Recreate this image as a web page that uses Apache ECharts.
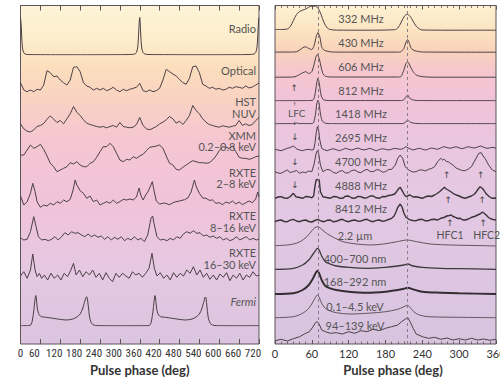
<!DOCTYPE html>
<html>
<head>
<meta charset="utf-8">
<script src="https://cdn.jsdelivr.net/npm/echarts@6/dist/echarts.min.js"></script>
<style>
  html, body { margin: 0; padding: 0; background: #ffffff; }
  #chart { width: 500px; height: 377px; }
</style>
</head>
<body>
<div id="chart"></div>
<script>
// ---------------- tick labels ----------------
const leftPhaseTicks  = [0, 60, 120, 180, 240, 300, 360, 420, 480, 540, 600, 660, 720];
const rightPhaseTicks = [0, 60, 120, 180, 240, 300, 360];
const pulseMarkers = [70, 216];   // main pulse and interpulse phases (dashed guides)

// ---------------- Vela pulsar profiles (two rotations, 0–720 deg) ----------------
const phase10 = [0,10,20,30,40,50,60,70,80,90,100,110,120,130,140,150,160,170,180,190,200,210,220,230,240,250,260,270,280,290,300,310,320,330,340,350,360,370,380,390,400,410,420,430,440,450,460,470,480,490,500,510,520,530,540,550,560,570,580,590,600,610,620,630,640,650,660,670,680,690,700,710,720];

const velaRadio = [[0,37.5],[2,30],[4,16],[6,7],[9,3],[13,1.2],[20,0.5],[60,0.3],[120,0.2],[200,0.2],[280,0.3],[330,0.5],[345,1],[350,2.5],[354,8],[357,24],[359,36],[360,37.7],[361,34],[363,20],[366,7],[370,2.5],[375,1],[385,0.5],[450,0.3],[550,0.2],[650,0.3],[690,0.5],[705,1],[710,2.5],[714,8],[717,24],[719,36],[720,37.5]];

const velaOptical = [12.3,5,3.3,5,3.3,5.7,5,10,24.3,22.3,18.3,19,15,12.3,10,15,27.7,28.3,23.3,12.3,9,7.7,5,6.7,5,6.7,4.3,5.7,7.7,5,3.3,5.7,4.3,5.7,6.7,7.7,11.7,4.3,3.3,5,3.3,4.3,6.7,15,25.7,23.3,21,19,15.7,12.3,10.7,16.7,28.3,29,22.3,10.7,9,6.7,7.7,5.7,6.7,5,5.7,7.7,6.7,8.3,7.7,6.7,9,7,8,10,12];

const velaNUV = [8.7,3.7,1.3,0.5,2.7,6,7,9,13.3,16.7,13.3,10,12,8.7,13.7,18.7,26,20.3,17,12.7,9.3,8,7,6,5.3,6,4.7,6,7,5.3,10,6,5.3,4.7,5.3,8,15,7,3.7,2.7,4.3,6,8.7,10.3,12.7,16,13.7,9.3,11.3,8,12,17,27,22,18.7,13.7,10.3,8,7,6,5.3,6.7,6,5.3,6.3,7,12,7,8.7,7,8,12,15];

const velaXMM = [18,18,23,28,24.7,26.3,28.7,23.7,17,9.7,6.3,1.3,3,4.7,6.3,10.3,9,11.3,8,6.3,6.3,9.7,11.3,15.7,21.3,26.3,26.3,29.7,26.3,19.7,13,11.3,13.7,13,16.3,14.7,17,18.7,22.3,25.7,26.3,27,28,24.7,17,9.7,8,3.7,3,5.7,8,10.3,12.3,11.3,10.3,10.3,9.7,10.3,13,17,22.3,26.3,25.7,24.7,27,21.3,15.7,14.7,14.7,13.7,14.7,16.3,17];

const velaRXTE2to8 = [[0,13],[10,4],[20,7.3],[30,15.7],[37,25.7],[44,17.3],[50,7.3],[60,1.7],[70,4],[80,3],[90,5.7],[100,4],[110,7.3],[120,5.7],[130,9],[140,7.3],[150,9.7],[158,18],[165,29],[170,24],[180,18.3],[190,15.7],[200,10.7],[210,13],[220,7.3],[230,9],[240,4],[250,5.7],[260,7.3],[270,5.7],[280,9],[290,5.7],[300,7.3],[310,9.7],[320,9],[330,10],[340,9],[350,12],[358,21],[364,13],[370,9],[378,14],[386,18],[398,27.3],[404,17],[410,8],[420,5],[435,6],[450,4.3],[465,7],[480,8],[495,9.3],[505,11],[515,17],[525,29],[531,22],[540,15.7],[550,11],[560,10.7],[570,8.7],[580,9],[590,5.7],[600,6.3],[610,4.3],[620,7],[630,5.7],[640,8],[650,5],[660,7],[670,4.3],[680,6.3],[690,8],[700,6.3],[710,10],[716,17],[720,12]];

const velaRXTE8to16 = [[0,5],[2,5.7],[10,4],[20,4.7],[30,12.3],[40,27.3],[47,17.3],[54,7.3],[64,4],[74,4.7],[84,3.3],[94,4.7],[104,7.3],[114,4],[124,7.3],[134,11.3],[144,9],[154,12.3],[164,10.7],[174,11.3],[184,9],[194,7.3],[204,10],[214,7.3],[224,9],[234,6.7],[244,8],[254,4.7],[264,7.3],[274,4],[284,6.7],[294,4.7],[304,7.3],[314,3.3],[324,5.7],[334,4],[344,7.3],[354,4],[364,5.7],[374,2.3],[384,9],[394,25.7],[399,28],[404,19],[412,7.3],[422,4],[432,4.7],[442,3.3],[452,5.7],[462,4],[472,7.3],[482,5.7],[492,10],[502,12.3],[512,10.7],[522,13.3],[532,10.7],[542,11.3],[552,8],[562,9],[572,6.7],[582,8],[592,5.7],[602,7.3],[612,4],[622,5.7],[632,3.3],[642,4.7],[652,7.3],[662,4],[672,5.7],[682,7.3],[692,4],[702,5.7],[712,4],[720,5]];

const velaRXTE16to30 = [[0,9],[2,10],[10,13.3],[20,6.7],[30,15],[37,31],[44,15],[50,8.3],[57,11.7],[64,6.7],[72,10],[82,5],[92,11.7],[102,6.7],[112,10],[122,5],[132,11.7],[142,8.3],[152,15],[160,21.7],[168,10],[178,15],[188,8.3],[198,13.3],[208,10],[218,15],[228,7.7],[238,11.7],[248,5],[258,12.3],[268,6.7],[278,3.3],[288,11.7],[298,7.7],[308,11.7],[318,9],[328,6.7],[338,13.3],[348,10],[358,11.7],[368,7.7],[378,11.7],[388,16.7],[397,31.7],[404,16.7],[412,9],[422,12.3],[432,6.7],[442,10],[452,5],[462,12.3],[472,7.7],[482,11.7],[492,9],[502,15],[512,11.7],[522,18.3],[532,10],[542,15],[552,7.7],[562,11.7],[572,5.7],[582,10],[592,5],[602,11],[612,7.7],[622,12.3],[632,4.3],[642,10],[652,6.7],[662,11.7],[672,5],[682,10],[692,7.7],[702,13.3],[712,9],[720,10]];

const velaFermi = [[0,0.3],[25,0.5],[32,1.5],[36,6],[40,15],[43,24],[46,30.5],[48,27],[50,20],[53,14],[57,11],[63,9.3],[78,8.7],[98,7.7],[118,6.7],[138,6],[158,7],[170,9],[180,12],[187,17],[193,23.5],[198,28.5],[200,29.3],[202,27],[205,19],[208,10],[212,4.5],[218,1.5],[226,0.6],[240,0.3],[300,0.2],[385,0.3],[392,1.5],[396,6],[400,15],[403,24],[406,30.5],[408,27],[410,20],[413,14],[417,11],[423,9.3],[438,8.7],[458,7.7],[478,6.7],[498,6],[518,7],[530,9],[540,12],[547,17],[553,23.5],[558,29],[560,28],[563,19],[566,10],[570,4.5],[576,1.5],[584,0.6],[600,0.3],[660,0.2],[720,0.3]];

// ---------------- Crab pulsar profiles (0–360 deg) ----------------
const crab332 = [[0,1],[10,1],[20,1.5],[25,4],[30,10],[35,16],[40,19],[45,20.3],[50,21.5],[55,23.3],[60,24.3],[65,24.3],[70,22.5],[75,16],[80,7.7],[85,2.7],[90,1],[100,0.4],[150,0.3],[195,0.8],[200,2.5],[205,7.5],[210,13.5],[215,16.3],[220,14.3],[225,9.3],[230,4.3],[235,1.7],[240,0.5],[300,0.3],[360,0.3]];
const crab430 = [[0,0.4],[30,0.5],[35,0.8],[40,2.3],[45,4.7],[50,5.7],[55,4],[60,3],[64,7.3],[67,15.7],[70,20],[73,15.7],[76,5.7],[80,2.3],[90,0.7],[100,0.4],[200,0.4],[205,0.7],[210,4],[213,9.7],[216,13],[219,9],[222,4],[228,1.7],[240,0.5],[360,0.3]];
const crab606 = [[0,0.3],[30,0.5],[35,1.3],[45,4.7],[50,5.8],[55,4],[60,5.8],[64,14],[67,21.3],[69,23],[72,19],[75,10.7],[78,4],[82,1.3],[90,0.5],[200,0.5],[205,0.8],[210,7.5],[213,13.5],[216,15.8],[220,11.5],[225,5.8],[230,2.5],[240,0.8],[260,0.3],[360,0.3]];
const crab812 = [[0,0.3],[55,0.4],[62,0.8],[65,6],[68,18],[70,22.7],[72,18],[75,6],[79,1.2],[90,0.4],[205,0.4],[210,1.2],[213,4],[216,6],[219,3],[225,1],[235,0.4],[360,0.3]];
const crab1418 = [[0,0.3],[30,0.4],[35,1],[40,0.4],[60,0.4],[63,1.5],[66,10],[68,20],[70,24],[72,20],[74,10],[77,3],[82,0.8],[95,0.3],[208,0.4],[212,1.5],[216,4],[220,2],[226,0.8],[240,0.3],[360,0.3]];
const crab2695 = [[0,2.2],[5,1.5],[10,0.8],[15,2],[20,3.2],[25,4],[30,5.5],[33,4],[36,2.2],[40,1.5],[45,0.8],[50,1.8],[55,2.2],[60,1.5],[63,2],[65,8],[67,18],[69,24.8],[71,21.5],[73,11.5],[76,3.2],[80,1.8],[85,0.8],[90,2],[95,2.8],[100,1.8],[105,0.8],[110,2],[115,3.2],[120,2.2],[125,1.5],[130,2.5],[135,3.5],[140,2.3],[145,1.5],[150,2.3],[155,3.2],[160,1.8],[165,0.8],[170,2],[175,2.8],[180,2.2],[185,1.5],[190,2.3],[195,3.2],[200,2.6],[205,2.2],[209,3],[213,4.8],[218,3.2],[222,2.2],[225,1.5],[230,2.4],[235,3.2],[240,2.3],[245,1.5],[250,2.5],[255,3.5],[260,2.8],[265,2.2],[270,3.5],[275,4.8],[280,4],[285,3.2],[290,4],[295,4.8],[300,3.6],[305,2.8],[310,3.8],[315,4.8],[320,4],[325,3.5],[330,4.5],[335,5.5],[340,4.2],[345,3.2],[350,3.6],[355,4.2],[360,3.2]];
const crab4700 = [[0,3.3],[5,2],[10,1.7],[15,3.5],[20,5],[25,2.5],[30,3.3],[35,4.5],[40,1.7],[45,3],[50,2.3],[55,4],[60,3.3],[64,11.7],[67,21.7],[69,24.3],[71,21.7],[74,10],[78,3.3],[84,5.5],[90,5],[95,2.5],[100,1.7],[105,3.8],[110,4.3],[115,2],[120,2.3],[125,4.5],[130,5],[135,3],[140,2.3],[145,4.5],[150,5.7],[155,3.5],[160,3.3],[165,5.2],[170,5],[175,2.8],[180,3.3],[185,5.5],[190,5.7],[196,10],[200,16.7],[204,20],[208,16.7],[212,8.3],[218,5],[224,3],[230,3.3],[235,5],[240,5],[245,4],[250,5.7],[255,6.5],[260,8.3],[265,13.3],[270,16.7],[273,15],[276,15.7],[279,13.5],[282,13.3],[286,11.5],[290,10],[295,7],[300,5.7],[305,4.5],[310,4.3],[315,6],[320,8.3],[326,15],[332,21.7],[336,22.3],[339,19],[342,16.7],[348,10],[354,5],[360,3.3]];
const crab4888 = [[0,0.7],[5,2],[10,2.3],[15,1],[20,0.7],[25,2.5],[30,5.7],[34,2.3],[40,1.5],[45,0.7],[50,2.5],[55,2.3],[60,1.2],[63,3],[65,12.3],[67,19],[70,19.5],[72,19],[74,7.3],[78,2.3],[84,1.5],[90,0.7],[95,2.5],[100,2.3],[105,0.8],[110,0.7],[115,2.8],[120,3],[125,1],[130,0.7],[135,2.6],[140,2.3],[145,1],[150,1.3],[155,3],[160,3],[165,1.2],[170,0.7],[175,2.5],[180,2.3],[185,3.5],[190,4],[195,5],[198,7.3],[201,10],[204,11.7],[208,7.3],[211,4],[214,2.3],[217,3.5],[220,4],[225,2],[230,2.3],[235,1.5],[240,0.7],[245,2.2],[250,3],[255,2.5],[260,4],[264,5.5],[268,7.3],[272,9.5],[276,11.7],[279,10],[282,9],[286,7.5],[290,5.7],[295,4],[300,3],[305,1.5],[310,0.7],[315,2],[320,3],[325,5],[328,7.3],[331,10],[334,12.3],[337,11],[340,9],[343,6],[346,4],[350,2],[354,0.7],[358,1],[360,0.5]];
const crab8412 = [[0,1.3],[5,2.5],[10,3],[15,1.5],[20,1.3],[25,2.8],[30,3.7],[35,2],[40,1.3],[45,2.5],[50,3],[55,1.5],[60,1],[65,2.5],[70,3.7],[75,2],[80,1.3],[85,2.7],[90,3],[95,1.2],[100,1.7],[105,3],[110,3.7],[115,2],[120,1.3],[125,2.5],[130,3],[135,1.8],[140,2],[145,3.2],[150,3.7],[155,2],[160,1.3],[165,2.6],[170,3],[175,1.6],[180,2.3],[185,3.5],[190,4.7],[194,7],[197,11],[200,15.7],[204,19],[207,16],[210,10],[213,6],[218,3.7],[224,2.5],[230,2.3],[235,3.5],[240,3.7],[245,2.2],[250,2.3],[255,3.5],[260,3.7],[265,3],[270,4.7],[275,5.5],[280,7],[284,7.5],[287,8],[290,6.5],[294,5.7],[298,4.5],[302,4.7],[306,3],[310,3],[315,4],[320,5.7],[325,6.5],[330,8],[334,9],[338,11],[341,9.5],[344,8],[347,6],[350,4.7],[355,3.5],[360,3]];
const crab2um = [[0,0.8],[20,1.5],[30,2.5],[41,4.8],[52,9.8],[60,15.8],[65,18.8],[70,19.8],[76,17.2],[84,13.2],[95,9.2],[111,4.8],[133,2.5],[155,1.5],[177,2.5],[199,4.8],[215,6.5],[231,4.8],[253,2.5],[286,1.5],[340,0.8],[360,0.5]];
const crabVisible = [[0,1.2],[30,2.2],[45,5.5],[55,10.5],[62,16.5],[66,19.8],[69,22.2],[72,20.5],[76,14.5],[82,8.8],[90,6.5],[100,4.5],[120,3.2],[150,2.2],[180,3.2],[200,4.5],[210,5.5],[216,6.5],[225,4.5],[240,3.2],[270,2.2],[300,1.8],[360,1.2]];
const crabUV = [[0,1.5],[30,2.2],[45,5.5],[55,10.5],[62,17.2],[66,22.2],[69,24.8],[72,22.2],[76,15.5],[82,9.5],[90,7.2],[100,5.5],[120,3.8],[150,2.8],[180,3.8],[200,5.5],[210,6.8],[216,7.8],[225,6.2],[240,3.8],[270,2.8],[300,2.2],[360,1.5]];
const crabSoftX = [[0,1.3],[30,2.3],[45,5.7],[55,10.7],[62,17.3],[66,21.7],[69,24],[72,21.7],[76,15.7],[82,10.7],[90,8],[100,6.3],[120,5],[150,5.7],[180,7.3],[200,9.7],[210,12.3],[216,13.7],[220,11.7],[226,7.3],[235,4],[250,2.3],[300,1.7],[360,1.3]];
const crabHardX = [[0,1.3],[10,2.7],[20,1],[30,3.3],[40,5.3],[50,8.7],[56,10.3],[62,15.3],[66,19.3],[69,20.3],[72,18],[76,12],[82,10.3],[90,8.7],[100,9.3],[110,8],[120,10.3],[130,8.7],[140,11.3],[150,10.3],[160,12.7],[170,11.3],[180,13.7],[190,15.3],[200,17],[206,20.3],[212,22.7],[216,24.7],[220,20.3],[225,13.7],[230,8],[240,5.3],[250,3.7],[260,4.7],[270,2.7],[280,4],[290,2],[300,3.3],[310,2],[320,3.7],[330,2],[340,3],[350,1.7],[360,2.7]];

// ---------------- band names ----------------
const leftBandNames  = ['Radio', 'Optical', 'HST', 'NUV', 'XMM', '0.2–0.8 keV', 'RXTE', '2–8 keV', 'RXTE', '8–16 keV', 'RXTE', '16–30 keV', 'Fermi'];
const rightBandNames = ['332 MHz', '430 MHz', '606 MHz', '812 MHz', '1418 MHz', '2695 MHz', '4700 MHz', '4888 MHz', '8412 MHz', '2.2 µm', '400–700 nm', '168–292 nm', '0.1–4.5 keV', '94–139 keV'];

// ---------------- layout ----------------
const FONT = 'Lato, "Noto Sans", "DejaVu Sans", sans-serif';
const NARROW = '"Liberation Sans Narrow", "Roboto Condensed", Lato, sans-serif';
const INK = '#4b4046';
const FRAME = '#5d5359';
const leftBox  = { left: 20.5, top: 5.5, width: 238.5, height: 338.5 };
const rightBox = { left: 275, top: 5.5, width: 221, height: 338.5 };

const leftStops = [
  { offset: 0.00, color: '#fdf4d8' },
  { offset: 0.10, color: '#fdedcc' },
  { offset: 0.18, color: '#fcdebd' },
  { offset: 0.28, color: '#f9d2c2' },
  { offset: 0.40, color: '#f5c6d2' },
  { offset: 0.58, color: '#f0c3da' },
  { offset: 0.78, color: '#e6c8e2' },
  { offset: 1.00, color: '#dbc4df' }
];
const rightStops = [
  { offset: 0.00, color: '#fdf2d2' },
  { offset: 0.07, color: '#fce4c2' },
  { offset: 0.13, color: '#f9d4ba' },
  { offset: 0.19, color: '#f6c7cd' },
  { offset: 0.27, color: '#f1c3d8' },
  { offset: 0.40, color: '#eac6df' },
  { offset: 0.60, color: '#e3c8e3' },
  { offset: 1.00, color: '#d8c4df' }
];

const grid = [], xAxis = [], yAxis = [], series = [];

function addFrame(box, ticks, stops, opts) {
  const gi = grid.length;
  grid.push({
    left: box.left, top: box.top, width: box.width, height: box.height,
    show: true, backgroundColor: new echarts.graphic.LinearGradient(0, 0, 0, 1, stops),
    borderColor: FRAME, borderWidth: 1, containLabel: false, outerBoundsMode: 'none', z: 0
  });
  const base = {
    gridIndex: gi, type: 'value',
    min: ticks[0], max: ticks[ticks.length - 1], interval: ticks[1] - ticks[0],
    axisLine: { show: false }, splitLine: { show: false },
    axisTick: { show: true, inside: true, length: opts.tickLen, lineStyle: { color: FRAME, width: 1 } },
    minorTick: opts.minor ? { show: true, splitNumber: opts.minor, length: 2.5, lineStyle: { color: FRAME, width: 0.8 } } : { show: false }
  };
  const xi = xAxis.length;
  xAxis.push(Object.assign({}, base, {
    position: 'bottom',
    axisLabel: Object.assign({
      show: true, color: '#333', fontSize: 11, fontFamily: FONT, margin: 4,
      showMinLabel: true, showMaxLabel: true
    }, opts.label || {}),
    name: 'Pulse phase (deg)', nameLocation: 'middle', nameGap: 17,
    nameTextStyle: { color: '#333', fontSize: 13, fontWeight: 'bold', fontFamily: FONT, padding: opts.namePad || 0 }
  }));
  xAxis.push(Object.assign({}, base, { position: 'top', axisLabel: { show: false } }));
  const yi = yAxis.length;
  yAxis.push({ gridIndex: gi, type: 'value', min: 0, max: 1, show: false });
  return { xi, yi };
}

function addRow(box, ticks, base, span, data, style) {
  const gi = grid.length;
  grid.push({ left: box.left, width: box.width, top: base - span, height: span, containLabel: false, outerBoundsMode: 'none' });
  const xi = xAxis.length;
  xAxis.push({ gridIndex: gi, type: 'value', min: ticks[0], max: ticks[ticks.length - 1], show: false });
  const yi = yAxis.length;
  yAxis.push({ gridIndex: gi, type: 'value', min: 0, max: span, show: false });
  series.push({
    type: 'line', xAxisIndex: xi, yAxisIndex: yi, data: data,
    showSymbol: false, symbol: 'none', smooth: style.smooth || false, silent: true, z: 3,
    lineStyle: { color: style.color || INK, width: style.width || 1 }
  });
}

function zip(xs, ys) { return xs.map((x, i) => [x, ys[i]]); }

// left panel: Vela
addFrame(leftBox, leftPhaseTicks, leftStops, {
  tickLen: 5,
  label: {
    fontFamily: NARROW, fontSize: 11,
    formatter: v => (v === 0 ? '0' : '{s|' + v + '}'),
    rich: { s: { padding: [0, 12, 0, 0], fontSize: 11, fontFamily: NARROW, color: '#333' } }
  }
});
const leftRows = [
  { data: velaRadio, base: 55, style: { smooth: 0.3 } },
  { data: zip(phase10, velaOptical), base: 95, style: {} },
  { data: zip(phase10, velaNUV), base: 132.5, style: {} },
  { data: zip(phase10, velaXMM), base: 173, style: {} },
  { data: velaRXTE2to8, base: 209, style: {} },
  { data: velaRXTE8to16, base: 244, style: {} },
  { data: velaRXTE16to30, base: 285, style: {} },
  { data: velaFermi, base: 326, style: { smooth: 0.3 } }
];
leftRows.forEach(r => addRow(leftBox, leftPhaseTicks, r.base, 40, r.data, r.style));

// right panel: Crab
const rightFrame = addFrame(rightBox, rightPhaseTicks, rightStops, { tickLen: 4, minor: 6, namePad: [0, 0, 0, 15] });
series.push({
  type: 'line', xAxisIndex: rightFrame.xi, yAxisIndex: rightFrame.yi,
  data: [[0, 0]], showSymbol: false, symbol: 'none', lineStyle: { width: 0, opacity: 0 }, silent: true, z: 2,
  markLine: {
    silent: true, symbol: ['none', 'none'], label: { show: false },
    lineStyle: { type: [3, 3], color: '#8a7b88', width: 1 },
    data: pulseMarkers.map(p => ({ xAxis: p }))
  }
});
const rightRows = [
  { data: crab332, base: 30.5, style: { smooth: 0.3 } },
  { data: crab430, base: 52.5, style: { smooth: 0.2 } },
  { data: crab606, base: 77.5, style: { smooth: 0.2 } },
  { data: crab812, base: 101, style: { smooth: 0.2 } },
  { data: crab1418, base: 124, style: { smooth: 0.2 } },
  { data: crab2695, base: 151.5, style: {} },
  { data: crab4700, base: 175, style: {} },
  { data: crab4888, base: 199, style: { width: 1.4, color: '#3a3337' } },
  { data: crab8412, base: 223, style: { width: 1.4, color: '#3a3337' } },
  { data: crab2um, base: 246.5, style: { smooth: 0.3, color: '#5e565c' } },
  { data: crabVisible, base: 270.5, style: { smooth: 0.3, width: 1.3, color: '#3f383d' } },
  { data: crabUV, base: 295.5, style: { smooth: 0.3, width: 1.9, color: '#332d31' } },
  { data: crabSoftX, base: 319, style: { smooth: 0.3, color: '#5e565c' } },
  { data: crabHardX, base: 342, style: {} }
];
rightRows.forEach(r => addRow(rightBox, rightPhaseTicks, r.base, 30, r.data, r.style));

// ---------------- annotations ----------------
const graphic = [];
function note(text, x, y, st) {
  graphic.push({
    type: 'text', x: x, y: y, z: 20, silent: true,
    style: Object.assign({
      text: text, fill: '#555', fontSize: 11, fontFamily: FONT,
      align: 'center', verticalAlign: 'middle'
    }, st || {})
  });
}
const leftLabelY = [28, 70, 101.5, 113, 135, 146.5, 172, 183.5, 215, 227.5, 252.5, 264, 301.5];
leftBandNames.forEach((t, i) => note(t, 256, leftLabelY[i], {
  align: 'right', fontStyle: t === 'Fermi' ? 'italic' : 'normal'
}));
const rightLabelY = [18, 42.7, 66.7, 90, 113.3, 137.3, 161.7, 185, 208.7, 235, 258.3, 281.7, 306, 325.7];
rightBandNames.forEach((t, i) => note(t, i < 9 ? 361 : 355, rightLabelY[i]));

const arrowStyle = { fontSize: 9, fill: '#444', fontFamily: '"DejaVu Sans", sans-serif' };
const tinyArrow = { fontSize: 5, fill: '#444', fontFamily: '"DejaVu Sans", sans-serif' };
note('↑', 294.3, 88.3, arrowStyle);
note('↑', 294.5, 104, tinyArrow);
note('LFC', 296.7, 113.3, { fontSize: 10 });
note('↓', 294.5, 122.5, tinyArrow);
note('↓', 295, 136.7, arrowStyle);
note('↓', 295, 161.7, arrowStyle);
note('↓', 295, 185, arrowStyle);
note('↑', 446.7, 175, arrowStyle);
note('↑', 480.7, 175, arrowStyle);
note('↑', 448.3, 199.5, arrowStyle);
note('↑', 482.3, 199.5, arrowStyle);
note('↑', 450, 223.3, arrowStyle);
note('↑', 483.3, 223.3, arrowStyle);
note('HFC1', 450, 235, { fontSize: 10.5 });
note('HFC2', 486.7, 235, { fontSize: 10.5 });

const chart = echarts.init(document.getElementById('chart'), null, { renderer: 'svg', width: 500, height: 377 });
chart.setOption({
  animation: false,
  backgroundColor: '#ffffff',
  grid: grid,
  xAxis: xAxis,
  yAxis: yAxis,
  series: series,
  graphic: graphic
});
</script>
</body>
</html>
